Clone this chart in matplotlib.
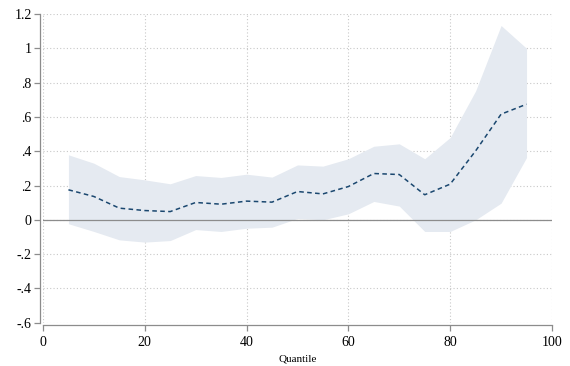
import matplotlib
matplotlib.use("Agg")
import matplotlib.pyplot as plt

quantile = [5, 10, 15, 20, 25, 30, 35, 40, 45, 50, 55, 60, 65, 70, 75, 80, 85, 90, 95]
coef = [0.175, 0.136, 0.068, 0.054, 0.048, 0.101, 0.091, 0.109, 0.103, 0.165,
        0.151, 0.194, 0.270, 0.264, 0.146, 0.208, 0.402, 0.616, 0.674]
upper = [0.379, 0.330, 0.252, 0.233, 0.210, 0.258, 0.247, 0.266, 0.249, 0.320,
         0.313, 0.356, 0.429, 0.443, 0.356, 0.480, 0.752, 1.133, 1.000]
lower = [-0.023, -0.068, -0.117, -0.130, -0.121, -0.057, -0.068, -0.049, -0.043, 0.008,
         0.000, 0.035, 0.107, 0.080, -0.068, -0.068, 0.000, 0.097, 0.363]

yticks = [-0.6, -0.4, -0.2, 0, 0.2, 0.4, 0.6, 0.8, 1.0, 1.2]
ylabels = ["-.6", "-.4", "-.2", "0", ".2", ".4", ".6", ".8", "1", "1.2"]
xticks = [0, 20, 40, 60, 80, 100]

plt.rcParams["font.family"] = ["Liberation Serif", "DejaVu Serif"]

fig = plt.figure(figsize=(5.7, 3.66), dpi=100)
ax = fig.add_axes([0.0754, 0.1183, 0.8930, 0.8434])

ax.fill_between(quantile, lower, upper, color="#e5eaf1", lw=0, zorder=1)
ax.plot(quantile, coef, color="#1a476f", lw=1.1, ls=(0, (3, 2.2)), zorder=3)
ax.axhline(0, color="#8c8c8c", lw=0.9, zorder=2)

ax.set_xlim(0, 100)
ax.set_ylim(-0.6, 1.2)
ax.set_xticks(xticks)
ax.set_yticks(yticks)
ax.set_yticklabels(ylabels, fontsize=10.5)
ax.set_xticklabels([str(x) for x in xticks], fontsize=8)
ax.set_xlabel("Quantile", fontsize=8, labelpad=4)

ax.grid(True, color="#c8c8c8", ls=(0, (1, 2)), lw=0.8, zorder=0)
ax.set_axisbelow(True)

for s in ["top", "right"]:
    ax.spines[s].set_visible(False)
for s in ["left", "bottom"]:
    ax.spines[s].set_color("#8c8c8c")
    ax.spines[s].set_linewidth(0.9)
    ax.spines[s].set_position(("outward", 2))
ax.tick_params(axis="both", colors="#8c8c8c", labelcolor="black", length=4, width=0.9)
ax.tick_params(axis="y", pad=2)

fig.savefig("out.png", dpi=100, facecolor="white")
